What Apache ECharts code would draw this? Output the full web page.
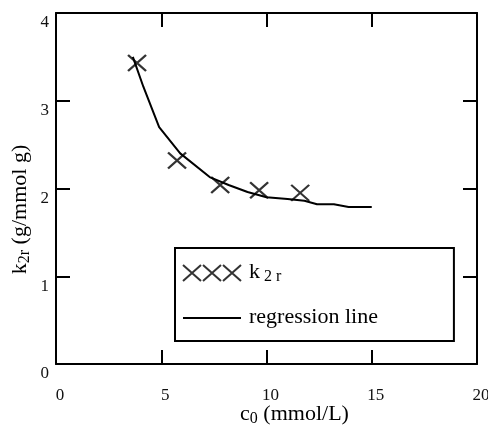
<!DOCTYPE html>
<html>
<head>
<meta charset="utf-8">
<script src="https://cdn.jsdelivr.net/npm/echarts@6/dist/echarts.min.js"></script>
<style>
html,body{margin:0;padding:0;background:#fff;}
#main{width:488px;height:431px;}
</style>
</head>
<body>
<div id="main"></div>
<script>
// Measured k2r points
const pointsX = [3.85, 5.75, 7.8, 9.65, 11.6];
const pointsY = [3.43, 2.32, 2.04, 1.98, 1.95];
// Regression line
const lineX = [3.65, 4.15, 4.9, 5.9, 7.3, 8.2, 9.1, 10.0, 11.0, 11.8, 12.4, 13.2, 13.9, 15.0];
const lineY = [3.50, 3.16, 2.70, 2.40, 2.13, 2.04, 1.96, 1.90, 1.88, 1.86, 1.82, 1.82, 1.79, 1.79];
// Axes
const xTicks = [0, 5, 10, 15, 20];
const yTicks = [0, 1, 2, 3, 4];
const seriesNames = ['k2r', 'regression line'];

const FONT = "'Liberation Serif', 'Times New Roman', serif";
const xMark = 'path://M0,0L18,16M18,0L0,16';
const xxxMark = 'path://M0,0L18,16M18,0L0,16M20,0L38,16M38,0L20,16M40,0L58,16M58,0L40,16';
const lineMark = 'path://M0,0H58V2H0Z';

const chart = echarts.init(document.getElementById('main'), null, {renderer: 'canvas'});

const axisLineStyle = {show: true, onZero: false, lineStyle: {color: '#000', width: 2}};
const tickStyle = {show: true, inside: true, length: 14, lineStyle: {color: '#000', width: 2}};
const titleRich = {
  n: {fontFamily: FONT, fontSize: 22, color: '#000', lineHeight: 24, verticalAlign: 'top'},
  s: {fontFamily: FONT, fontSize: 16, color: '#000', lineHeight: 12, verticalAlign: 'bottom'}
};

const option = {
  backgroundColor: '#fff',
  animation: false,
  grid: {left: 56, right: 11, top: 13, bottom: 67, containLabel: false, outerBoundsMode: 'none'},
  xAxis: [
    {
      type: 'value', position: 'bottom',
      min: xTicks[0], max: xTicks[xTicks.length - 1], interval: xTicks[1] - xTicks[0],
      axisLine: axisLineStyle, axisTick: tickStyle, splitLine: {show: false},
      axisLabel: {
        margin: 23, color: '#111', fontFamily: FONT, fontSize: 17, padding: [0, 0, 0, 8]
      },
      name: '{n|c}{s|0}{n| (mmol/L)}',
      nameLocation: 'middle', nameGap: 39, nameMoveOverlap: false,
      nameTextStyle: {padding: [0, 0, 0, 56], rich: titleRich}
    },
    {
      type: 'value', position: 'top',
      min: xTicks[0], max: xTicks[xTicks.length - 1], interval: xTicks[1] - xTicks[0],
      axisLine: axisLineStyle, axisTick: tickStyle, splitLine: {show: false},
      axisLabel: {show: false}
    }
  ],
  yAxis: [
    {
      type: 'value', position: 'left',
      min: yTicks[0], max: yTicks[yTicks.length - 1], interval: yTicks[1] - yTicks[0],
      axisLine: axisLineStyle, axisTick: tickStyle, splitLine: {show: false},
      axisLabel: {
        margin: 7, color: '#111', fontFamily: FONT, fontSize: 17,
        verticalAlign: 'top', lineHeight: 18, padding: [1, 0, 0, 0]
      },
      name: '{n|k}{s|2r}{n| (g/mmol g)}',
      nameLocation: 'middle', nameGap: 23, nameMoveOverlap: false,
      nameTextStyle: {padding: [0, 42, 0, 0], rich: titleRich}
    },
    {
      type: 'value', position: 'right',
      min: yTicks[0], max: yTicks[yTicks.length - 1], interval: yTicks[1] - yTicks[0],
      axisLine: axisLineStyle, axisTick: tickStyle, splitLine: {show: false},
      axisLabel: {show: false}
    }
  ],
  legend: {
    orient: 'vertical',
    left: 175, top: 248,
    padding: [13, 76, 13, 7],
    itemGap: 21,
    itemWidth: 58, itemHeight: 16,
    borderColor: '#000', borderWidth: 2,
    backgroundColor: '#fff',
    data: [
      {name: seriesNames[0], icon: xxxMark},
      {name: seriesNames[1], icon: lineMark, itemStyle: {color: '#000', borderWidth: 0}}
    ],
    formatter: function (name) {
      return name === seriesNames[0] ? '{n|k}{s| 2 r}' : '{n|' + name + '}';
    },
    textStyle: {
      padding: [0, 0, 0, 3],
      rich: {
        n: {fontFamily: FONT, fontSize: 22, color: '#000', lineHeight: 24, verticalAlign: 'top'},
        s: {fontFamily: FONT, fontSize: 16, color: '#000', lineHeight: 14, verticalAlign: 'bottom'}
      }
    }
  },
  series: [
    {
      name: seriesNames[0],
      type: 'scatter',
      symbol: xMark,
      symbolSize: [18, 16],
      itemStyle: {color: 'rgba(0,0,0,0)', borderColor: '#000', borderWidth: 2.2},
      data: pointsX.map((x, i) => [x, pointsY[i]]),
      z: 3
    },
    {
      name: seriesNames[1],
      type: 'line',
      symbol: 'none',
      smooth: false,
      lineStyle: {color: '#000', width: 2},
      itemStyle: {color: '#000'},
      data: lineX.map((x, i) => [x, lineY[i]]),
      z: 2
    }
  ]
};
chart.setOption(option);
</script>
</body>
</html>
